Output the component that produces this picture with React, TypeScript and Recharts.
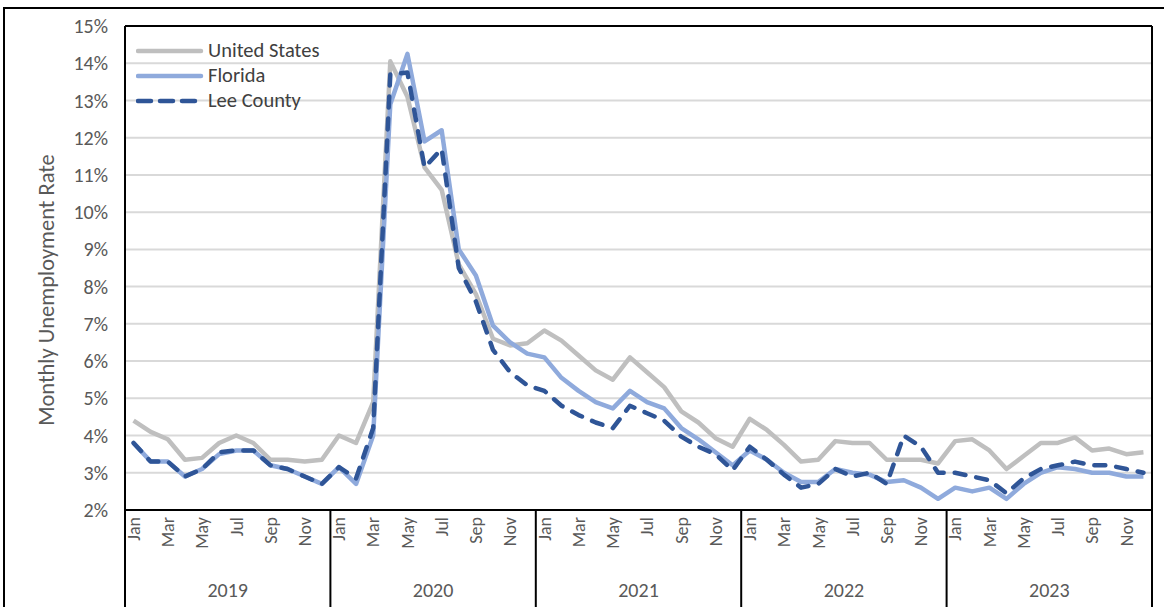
import React from 'react';
import { LineChart, Line, XAxis, YAxis, CartesianGrid, Legend, ReferenceLine } from 'recharts';

// ---- data ----
const months = ['Jan', 'Feb', 'Mar', 'Apr', 'May', 'Jun', 'Jul', 'Aug', 'Sep', 'Oct', 'Nov', 'Dec'];
const years = ['2019', '2020', '2021', '2022', '2023'];
const yTicks = [2, 3, 4, 5, 6, 7, 8, 9, 10, 11, 12, 13, 14, 15];

const unitedStates = [
  4.4, 4.1, 3.9, 3.35, 3.4, 3.8, 4.0, 3.8, 3.35, 3.35, 3.3, 3.35,
  4.0, 3.8, 4.9, 14.05, 13.1, 11.2, 10.6, 8.6, 7.8, 6.6, 6.42, 6.48,
  6.82, 6.55, 6.15, 5.75, 5.5, 6.1, 5.7, 5.3, 4.65, 4.35, 3.93, 3.7,
  4.45, 4.15, 3.75, 3.3, 3.35, 3.85, 3.8, 3.8, 3.35, 3.35, 3.35, 3.25,
  3.85, 3.9, 3.6, 3.1, 3.45, 3.8, 3.8, 3.95, 3.6, 3.65, 3.5, 3.55,
];
const florida = [
  3.8, 3.3, 3.3, 2.9, 3.1, 3.5, 3.6, 3.6, 3.2, 3.1, 2.9, 2.7,
  3.15, 2.7, 4.0, 12.9, 14.25, 11.9, 12.2, 9.0, 8.3, 6.95, 6.5, 6.2,
  6.1, 5.55, 5.2, 4.9, 4.73, 5.2, 4.9, 4.73, 4.2, 3.9, 3.55, 3.2,
  3.6, 3.35, 3.0, 2.75, 2.75, 3.1, 3.0, 2.95, 2.75, 2.8, 2.6, 2.3,
  2.6, 2.5, 2.6, 2.3, 2.7, 3.0, 3.15, 3.1, 3.0, 3.0, 2.9, 2.9,
];
const leeCounty = [
  3.8, 3.3, 3.3, 2.9, 3.1, 3.55, 3.6, 3.6, 3.2, 3.1, 2.9, 2.7,
  3.15, 2.85, 4.2, 13.7, 13.75, 11.2, 11.7, 8.5, 7.6, 6.3, 5.7, 5.35,
  5.2, 4.8, 4.55, 4.35, 4.2, 4.8, 4.6, 4.4, 3.97, 3.7, 3.5, 3.07,
  3.7, 3.35, 2.95, 2.6, 2.7, 3.1, 2.9, 3.0, 2.7, 4.0, 3.7, 3.0,
  3.0, 2.9, 2.8, 2.45, 2.85, 3.1, 3.2, 3.3, 3.2, 3.2, 3.1, 3.0,
];

const seriesInfo = [
  { key: 'us', name: 'United States', color: '#BFBFBF', dash: undefined as string | undefined },
  { key: 'fl', name: 'Florida', color: '#8FAADC', dash: undefined as string | undefined },
  { key: 'lee', name: 'Lee County', color: '#2F5597', dash: '11 11' },
];

const categories: string[] = [];
years.forEach((y) => months.forEach((m) => categories.push(`${m} ${y}`)));

const data = categories.map((label, i) => ({
  label,
  us: unitedStates[i],
  fl: florida[i],
  lee: leeCounty[i],
}));

// ---- layout ----
const CHART_W = 1164;
const CHART_H = 607;
const MARGIN = { top: 26, right: 12, bottom: 0, left: 0 };
const YAXIS_W = 125;
const XAXIS_H = 97;
const FONT = 'Carlito, Lato, "Open Sans", sans-serif';
const BAND_HALF = (CHART_W - MARGIN.left - MARGIN.right - YAXIS_W) / categories.length / 2;

const MonthTick = (props: any) => {
  const { x, y, payload } = props;
  const idx: number = payload?.index ?? props.index ?? 0;
  const half = BAND_HALF;
  const [mon, yr] = String(payload.value).split(' ');
  const ty = y + 7;
  return (
    <g>
      {idx % 2 === 0 && (
        <text
          x={x}
          y={ty}
          dy="0.35em"
          textAnchor="end"
          transform={`rotate(-90 ${x} ${ty})`}
          fill="#595959"
          fontSize={18}
          fontFamily={FONT}
        >
          {mon}
        </text>
      )}
      {mon === 'Jan' && (
        <line x1={x - half} x2={x - half} y1={y} y2={CHART_H} stroke="#000" strokeWidth={2} />
      )}
      {idx === categories.length - 1 && (
        <line x1={x + half} x2={x + half} y1={MARGIN.top} y2={CHART_H} stroke="#000" strokeWidth={2} />
      )}
      {mon === 'Jul' && (
        <text
          x={x - half}
          y={y + 80}
          dy="0.35em"
          textAnchor="middle"
          fill="#595959"
          fontSize={20}
          fontFamily={FONT}
        >
          {yr}
        </text>
      )}
    </g>
  );
};

const LegendContent = () => (
  <div style={{ fontFamily: FONT, fontSize: 20.5, color: '#404040' }}>
    {seriesInfo.map((s) => (
      <div key={s.key} style={{ display: 'flex', alignItems: 'center', height: 25 }}>
        <svg width={72} height={10} style={{ display: 'block' }}>
          <line
            x1={2}
            x2={65}
            y1={5}
            y2={5}
            stroke={s.color}
            strokeWidth={4.5}
            strokeLinecap="round"
            strokeDasharray={s.dash ? '13 9' : undefined}
          />
        </svg>
        <span style={{ lineHeight: '25px', whiteSpace: 'nowrap' }}>{s.name}</span>
      </div>
    ))}
  </div>
);

const YLabel = (props: any) => {
  const vb = props.viewBox || { x: 0, y: MARGIN.top, width: YAXIS_W, height: 484 };
  const cx = vb.x + 46;
  const cy = vb.y + vb.height / 2 + 22;
  return (
    <text
      x={cx}
      y={cy}
      dy="0.35em"
      textAnchor="middle"
      transform={`rotate(-90 ${cx} ${cy})`}
      fill="#595959"
      fontSize={22.5}
      fontFamily={FONT}
    >
      Monthly Unemployment Rate
    </text>
  );
};

export default function App() {
  return (
    <div style={{ position: 'absolute', left: 0, top: 0, width: CHART_W, height: CHART_H, overflow: 'hidden', background: '#fff' }}>
      <div
        style={{
          position: 'absolute',
          left: 3,
          top: 7,
          right: 0,
          bottom: 0,
          borderTop: '2px solid #000',
          borderLeft: '2px solid #000',
        }}
      />
      <div style={{ position: 'absolute', left: 0, top: 0 }}>
        <LineChart width={CHART_W} height={CHART_H} data={data} margin={MARGIN}>
          <CartesianGrid horizontal vertical={false} stroke="#D9D9D9" strokeWidth={2} />
          <XAxis
            dataKey="label"
            interval={0}
            height={XAXIS_H}
            padding={{ left: BAND_HALF, right: BAND_HALF }}
            tickSize={0}
            tickMargin={0}
            tickLine={false}
            axisLine={{ stroke: '#000', strokeWidth: 2 }}
            tick={<MonthTick />}
          />
          <YAxis
            domain={[2, 15]}
            ticks={yTicks}
            width={YAXIS_W}
            tickLine={false}
            tickSize={0}
            tickMargin={17}
            allowDataOverflow
            axisLine={{ stroke: '#000', strokeWidth: 2 }}
            tickFormatter={(v: number) => `${v}%`}
            tick={{ fill: '#595959', fontSize: 20, fontFamily: FONT }}
            label={<YLabel />}
          />
          <ReferenceLine y={15} stroke="#000" strokeWidth={2} />
          <Legend
            layout="vertical"
            align="center"
            verticalAlign="middle"
            wrapperStyle={{ left: 136, top: 38, width: 'auto' }}
            content={<LegendContent />}
          />
          {seriesInfo.map((s) => (
            <Line
              key={s.key}
              type="linear"
              dataKey={s.key}
              name={s.name}
              stroke={s.color}
              strokeWidth={4.5}
              strokeDasharray={s.dash}
              strokeLinecap={s.dash ? 'round' : 'butt'}
              strokeLinejoin="round"
              dot={false}
              activeDot={false}
              isAnimationActive={false}
            />
          ))}
        </LineChart>
      </div>
    </div>
  );
}
